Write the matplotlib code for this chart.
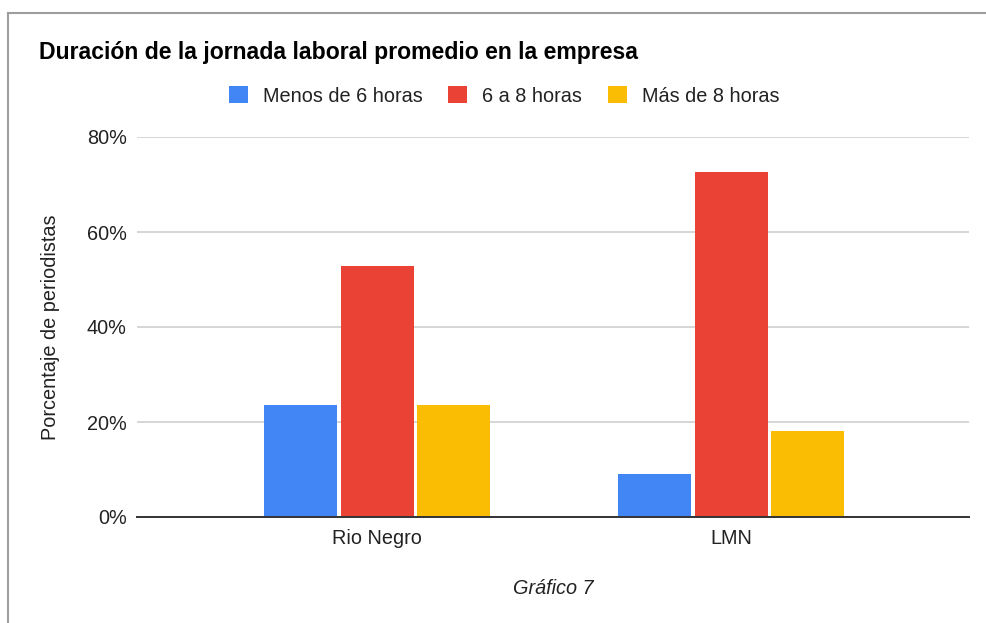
import numpy as np
import matplotlib.pyplot as plt
import matplotlib.patches as mpatches
from matplotlib.lines import Line2D
from matplotlib.ticker import FuncFormatter

plt.rcParams['font.family'] = ['Liberation Sans', 'DejaVu Sans']

# Datos
categorias = ['Rio Negro', 'LMN']
series = ['Menos de 6 horas', '6 a 8 horas', 'Más de 8 horas']
menos_6 = [23.5, 9.1]
de_6_a_8 = [52.9, 72.7]
mas_8 = [23.5, 18.2]
valores = [menos_6, de_6_a_8, mas_8]
colores = ['#4285F4', '#EA4335', '#FBBC04']

fig = plt.figure(figsize=(9.87, 6.23), dpi=100, facecolor='white')
W, H = 987, 623
ax = fig.add_axes([137 / W, 1 - 517 / H, (969 - 137) / W, (517 - 137) / H])

x = np.arange(len(categorias))
ancho = 0.206
paso = 0.215
for i, (vals, cor) in enumerate(zip(valores, colores)):
    ax.bar(x + (i - 1) * paso, vals, width=ancho, color=cor, zorder=3)

ax.set_ylim(0, 80)
ax.set_xlim(-0.678, 1.672)
ax.set_yticks([0, 20, 40, 60, 80])
ax.yaxis.set_major_formatter(FuncFormatter(lambda v, p: f'{v:.0f}%'))
ax.set_xticks(x)
ax.set_xticklabels(categorias)
ax.tick_params(axis='both', length=0, labelsize=14.3, colors='#222222')
ax.tick_params(axis='y', pad=7.5)
ax.tick_params(axis='x', pad=8.3)
ax.grid(axis='y', color='#cccccc', linewidth=1.1, zorder=0)
for s in ['top', 'right', 'left']:
    ax.spines[s].set_visible(False)
ax.spines['bottom'].set_color('#333333')
ax.spines['bottom'].set_linewidth(1.4)
ax.spines['bottom'].set_zorder(4)

ax.set_ylabel('Porcentaje de periodistas', fontsize=14.3, color='#222222', labelpad=19)
ax.set_xlabel('Gráfico 7', fontsize=14.3, style='italic', color='#222222', labelpad=23)

fig.text(39 / W, 1 - 53 / H, 'Duración de la jornada laboral promedio en la empresa',
         fontsize=16.6, fontweight='bold', color='#000000', va='center', ha='left')

handles = [mpatches.Patch(facecolor=c, edgecolor='none', label=s)
           for s, c in zip(series, colores)]
fig.legend(handles=handles, loc='center', bbox_to_anchor=(504 / W, 1 - 96 / H),
           ncol=3, frameon=False, fontsize=14.3, handlelength=0.95, handleheight=0.95,
           handletextpad=0.75, columnspacing=1.3, labelcolor='#222222')

# Borde del gráfico
fig.add_artist(Line2D([8.5 / W, 1.0], [1 - 12.5 / H, 1 - 12.5 / H],
                      transform=fig.transFigure, color='#9e9e9e', linewidth=1.5))
fig.add_artist(Line2D([8.5 / W, 8.5 / W], [0.0, 1 - 12.5 / H],
                      transform=fig.transFigure, color='#9e9e9e', linewidth=1.5))

plt.savefig('out.png', dpi=100, facecolor='white')
